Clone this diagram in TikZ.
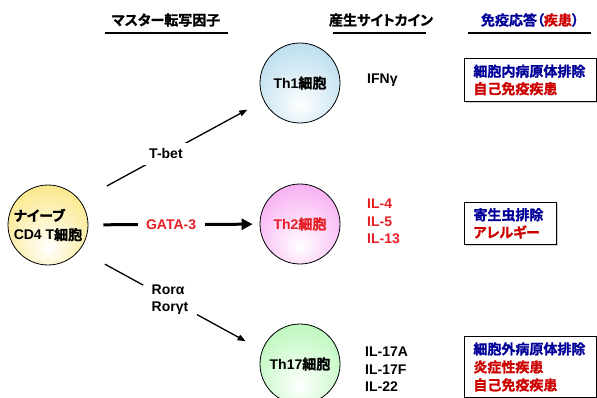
\documentclass[tikz,border=0pt]{standalone}
\usepackage{fontspec}
\setmainfont{Liberation Sans}
\newfontfamily\jpfont{Noto Sans CJK JP}[BoldFont={Noto Sans CJK JP Bold},BoldFeatures={FakeBold=1.2},RawFeature=+palt]
\usetikzlibrary{arrows.meta,shadows}

\definecolor{respblue}{RGB}{0,0,153}
\definecolor{dred}{RGB}{204,0,0}
\definecolor{lred}{RGB}{230,30,35}
\definecolor{thonecol}{RGB}{188,222,238}
\definecolor{thtwocol}{RGB}{248,176,242}
\definecolor{thsevcol}{RGB}{190,248,190}
\definecolor{naivecol}{RGB}{250,232,140}

\pgfdeclareradialshading{thoneshade}{\pgfpoint{0bp}{-15bp}}{color(0bp)=(white); color(32bp)=(thonecol); color(60bp)=(thonecol)}
\pgfdeclareradialshading{thtwoshade}{\pgfpoint{0bp}{-15bp}}{color(0bp)=(white); color(32bp)=(thtwocol); color(60bp)=(thtwocol)}
\pgfdeclareradialshading{thsevshade}{\pgfpoint{0bp}{-15bp}}{color(0bp)=(white); color(32bp)=(thsevcol); color(60bp)=(thsevcol)}
\pgfdeclareradialshading{naiveshade}{\pgfpoint{0bp}{-15bp}}{color(0bp)=(white); color(32bp)=(naivecol); color(60bp)=(naivecol)}

\tikzset{
  cell/.style={draw, circle, minimum size=80pt, inner sep=0pt, line width=0.8pt},
  head/.style={minimum height=26pt, inner sep=0pt},
  uline/.style={line width=1.4pt},
  cyto/.style={anchor=west, align=left, inner sep=0pt, font=\bfseries\fontsize{14}{17.5}\selectfont},
  resp/.style={draw, anchor=north west, align=left, inner xsep=9pt, inner ysep=0pt,
    line width=0.9pt, fill=white, font=\bfseries\fontsize{14}{17.5}\selectfont,
    drop shadow={shadow xshift=1.5pt, shadow yshift=-1.5pt, fill=black!35}},
  arr/.style={-{Triangle[length=8pt,width=6pt]}, line width=1.3pt},
  thickarr/.style={-{Triangle[length=11pt,width=11pt]}, line width=3pt},
}

\begin{document}
\begin{tikzpicture}[x=1pt, y=-1pt, font=\bfseries\fontsize{14}{17}\selectfont]
\useasboundingbox (0,0) rectangle (597,398);

% headings
\node[head] (mtf) at (166,20) {\jpfont マスター転写因子};
\node[head] (cyt) at (381,20) {\jpfont 産生サイトカイン};
\node[head] (imm) at (530,20) {\jpfont\color{respblue}免疫応答（\textcolor{dred}{疾患}）};
\draw[uline] ([xshift=-61pt]mtf.south) -- ([xshift=62pt]mtf.south);
\draw[uline] ([xshift=-48pt]cyt.south) -- ([xshift=45pt]cyt.south);
\draw[uline] ([xshift=-62pt]imm.south) -- ([xshift=61pt]imm.south);

% cells
\node[cell, shading=naiveshade, align=left, font=\bfseries\fontsize{14}{19}\selectfont] (naive) at (48,225)
  {{\jpfont ナイーブ}\\CD4 T{\jpfont 細胞}};
\node[cell, shading=thoneshade] (th1) at (300,83) {Th1{\jpfont 細胞}};
\node[cell, shading=thtwoshade, text=lred] (th2) at (300,224) {Th2{\jpfont 細胞}};
\node[cell, shading=thsevshade] (th17) at (300,364) {Th17{\jpfont 細胞}};

% differentiation
\draw[arr, shorten <=67pt, shorten >=60pt] ([yshift=7pt]naive.center) -- ([yshift=2pt]th1.center)
  node[pos=.468, fill=white, inner sep=6pt] (tbet) {T-bet};
\draw[thickarr, shorten <=15pt, shorten >=7pt] (naive) -- (th2)
  node[pos=.483, fill=white, inner xsep=8.5pt, text=lred] (gata) {GATA-3};
\draw[arr, shorten <=65pt, shorten >=62pt] ([yshift=-8pt]naive.center) -- ([yshift=-7pt]th17.center)
  node[pos=.484, fill=white, align=left, inner xsep=9pt, inner ysep=0pt] (ror) {Rorα\\Rorγt};

% cytokines
\node[cyto] (ifn) at (367,80) {IFNγ};
\node[cyto, text=lred] (cytwo) at (367,221.5) {IL-4\\IL-5\\IL-13};
\node[cyto] (cysev) at (365,369.5) {IL-17A\\IL-17F\\IL-22};

% responses
\node[resp, text width=114pt, minimum height=43pt] (rone) at (464,58)
  {\jpfont\textcolor{respblue}{細胞内病原体排除}\\\textcolor{dred}{自己免疫疾患}};
\node[resp, text width=74pt, minimum height=42pt] (rtwo) at (464,202)
  {\jpfont\textcolor{respblue}{寄生虫排除}\\\textcolor{dred}{アレルギー}};
\node[resp, text width=114pt, minimum height=61pt, font=\bfseries\fontsize{14}{18}\selectfont] (rsev) at (464,336)
  {\jpfont\textcolor{respblue}{細胞外病原体排除}\\\textcolor{dred}{炎症性疾患}\\\textcolor{dred}{自己免疫疾患}};
\end{tikzpicture}
\end{document}
